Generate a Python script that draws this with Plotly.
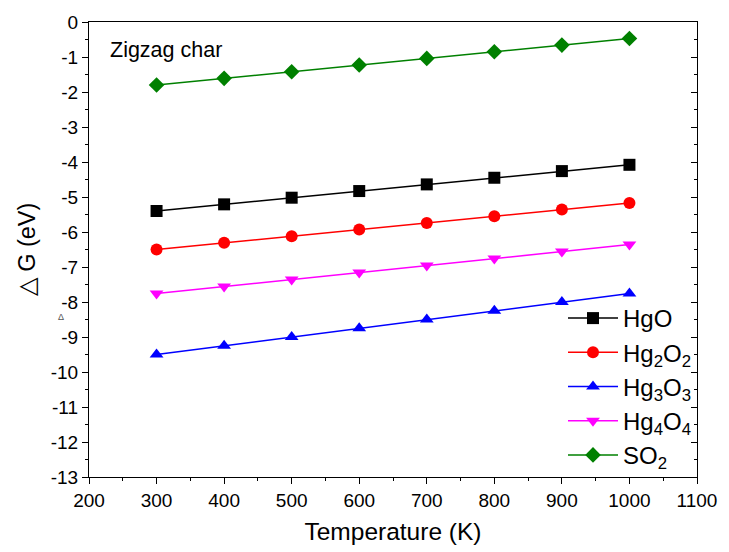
import plotly.graph_objects as go

temps = [300, 400, 500, 600, 700, 800, 900, 1000]
hgo = [-5.40, -5.21, -5.02, -4.83, -4.64, -4.45, -4.26, -4.08]
hg2o2 = [-6.50, -6.31, -6.12, -5.93, -5.74, -5.55, -5.36, -5.17]
hg3o3 = [-9.50, -9.25, -9.00, -8.75, -8.50, -8.25, -8.00, -7.76]
hg4o4 = [-7.76, -7.56, -7.36, -7.16, -6.96, -6.76, -6.56, -6.36]
so2 = [-1.80, -1.61, -1.42, -1.23, -1.04, -0.85, -0.66, -0.47]

x_ticks = list(range(200, 1101, 100))
y_ticks = list(range(-13, 1))
y_ticktext = [str(v) for v in y_ticks]  # hyphen minus as in reference

series = [
    ("HgO", hgo, "black", "square"),
    ("Hg<sub>2</sub>O<sub>2</sub>", hg2o2, "red", "circle"),
    ("Hg<sub>3</sub>O<sub>3</sub>", hg3o3, "blue", "triangle-up"),
    ("Hg<sub>4</sub>O<sub>4</sub>", hg4o4, "magenta", "triangle-down"),
    ("SO<sub>2</sub>", so2, "green", "diamond"),
]

fig = go.Figure()
for name, vals, col, sym in series:
    fig.add_trace(go.Scatter(
        x=temps, y=vals, name=name, mode="lines+markers",
        line=dict(color=col, width=1.5),
        marker=dict(symbol=sym, size=12, color=col),
    ))

# invisible trace for right axis
fig.add_trace(go.Scatter(x=[temps[0]], y=[hgo[0]], yaxis="y2", showlegend=False,
                         mode="markers", marker=dict(opacity=0), hoverinfo="skip"))

font = "Liberation Sans, Arial, sans-serif"
L, R, T, B = 89, 22, 22, 71
fig.update_layout(
    width=729, height=552,
    margin=dict(l=L, r=R, t=T, b=B),
    plot_bgcolor="white", paper_bgcolor="white",
    font=dict(family=font, color="black"),
    showlegend=True,
    xaxis=dict(
        range=[200, 1100], tickvals=x_ticks,
        ticks="outside", ticklen=6, tickwidth=1.2, tickcolor="black",
        minor=dict(dtick=50, ticks="outside", ticklen=3, tickcolor="black"),
        showline=True, linecolor="black", linewidth=1.2, mirror=True,
        showgrid=False, zeroline=False,
        tickfont=dict(size=19),
        title=dict(text="Temperature (K)", font=dict(size=24.5), standoff=12),
    ),
    yaxis=dict(
        range=[-13, 0], tickvals=y_ticks, ticktext=y_ticktext,
        ticks="outside", ticklen=6, tickwidth=1.2, tickcolor="black",
        minor=dict(dtick=0.5, ticks="outside", ticklen=3, tickcolor="black"),
        showline=True, linecolor="black", linewidth=1.2, mirror=True,
        showgrid=False, zeroline=False,
        tickfont=dict(size=19),
        title=dict(text="△ G (eV)", font=dict(size=23.5), standoff=8),
    ),
    yaxis2=dict(
        range=[-13, 0], dtick=1, overlaying="y", side="right",
        ticks="inside", ticklen=6, tickcolor="black", showticklabels=False,
        minor=dict(dtick=0.5, ticks="inside", ticklen=3, tickcolor="black"),
        showgrid=False, zeroline=False, showline=False,
    ),
    legend=dict(
        x=1.0, y=0.0, xanchor="right", yanchor="bottom",
        bgcolor="rgba(0,0,0,0)", font=dict(size=24),
        tracegroupgap=0, itemwidth=50,
    ),
    annotations=[
        dict(text="Zigzag char", x=(108 - L) / (729 - L - R), y=(552 - B - 36) / (552 - T - B),
             xref="paper", yref="paper",
             xanchor="left", yanchor="top", showarrow=False, font=dict(size=21.5)),
        dict(text="Δ", x=(55 - L) / (729 - L - R), y=(552 - B - 320) / (552 - T - B),
             xref="paper", yref="paper", showarrow=False,
             font=dict(size=9, color="#555555")),
    ],
)

fig.write_html("out.html")
